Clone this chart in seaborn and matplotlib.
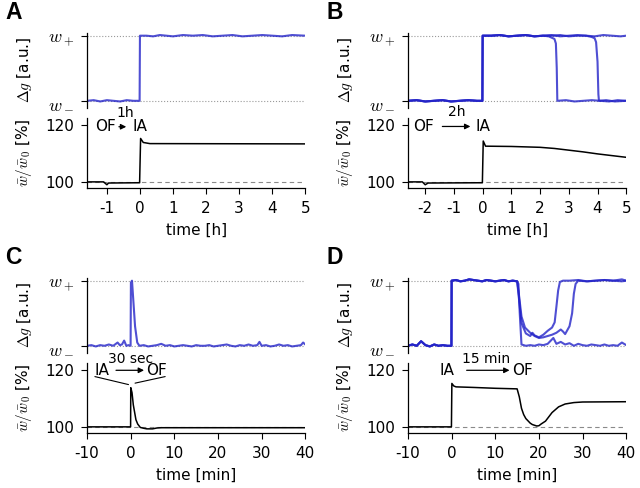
import numpy as np
import pandas as pd
import matplotlib
matplotlib.use('Agg')
import matplotlib.pyplot as plt
import seaborn as sns

# ---- data ----
# A: 1h in OF then switch to IA
a_t = [-1.6, -1.4, -1.2, -1.0, -0.8, -0.6, -0.4, -0.2, -0.01, 0.0, 0.2, 0.4, 0.6, 0.8, 1.0,
       1.3, 1.6, 1.9, 2.2, 2.5, 2.8, 3.1, 3.4, 3.7, 4.0, 4.3, 4.6, 5.0]
a_g = [0.0, 0.01, -0.01, 0.01, 0.0, -0.01, 0.01, 0.0, 0.0, 1.0, 1.0, 0.99, 1.01, 1.0, 0.99,
       1.01, 1.0, 1.01, 0.99, 1.0, 1.01, 0.99, 1.0, 1.01, 1.0, 0.99, 1.01, 1.0]
a_wt = [-1.6, -1.1, -1.0, -0.95, -0.01, 0.02, 0.1, 0.3, 5.0]
a_w = [100.0, 100.0, 99.0, 99.6, 99.7, 115.2, 113.8, 113.4, 113.3]

# B: 2h in OF then IA, three runs
b_pre_t = [-2.6, -2.3, -2.0, -1.7, -1.4, -1.1, -0.8, -0.5, -0.2, -0.01, 0.0, 0.3, 0.6, 0.9,
           1.2, 1.5, 1.8, 2.1]
b_pre_g = [0.0, 0.01, -0.01, 0.0, 0.01, -0.01, 0.0, 0.01, 0.0, 0.0, 1.0, 1.0, 1.01, 0.99,
           1.0, 1.01, 0.99, 1.0]
b1_t = [2.4, 2.7, 3.0, 3.3, 3.6, 3.9, 4.2, 4.5, 4.8, 5.0]
b1_g = [1.01, 0.99, 1.0, 1.01, 1.0, 0.99, 1.01, 1.0, 0.99, 1.0]
b2_t = [2.3, 2.4, 2.5, 2.55, 2.58, 2.6, 2.9, 3.2, 3.5, 3.8, 4.1, 4.4, 4.7, 5.0]
b2_g = [0.99, 0.97, 0.95, 0.88, 0.5, 0.0, 0.01, -0.01, 0.0, 0.01, 0.0, -0.01, 0.01, 0.0]
b3_t = [2.4, 2.7, 3.0, 3.3, 3.6, 3.8, 3.9, 3.95, 4.0, 4.03, 4.05, 4.3, 4.6, 5.0]
b3_g = [1.0, 1.01, 0.99, 1.0, 1.0, 0.98, 0.96, 0.9, 0.6, 0.1, 0.0, 0.01, -0.01, 0.0]
b_wt = [-2.6, -2.1, -2.0, -1.9, -0.01, 0.02, 0.1, 1.0, 2.0, 2.5, 3.0, 3.5, 4.0, 4.5, 5.0]
b_w = [100.0, 100.0, 99.0, 99.6, 99.7, 114.3, 112.5, 112.4, 112.1, 111.7, 111.1, 110.5,
       109.8, 109.2, 108.6]

# C: 30 sec in IA then OF
c_t = [-10, -9, -8, -7, -6, -5, -4, -3, -2.5, -2, -1.5, -1, -0.5, -0.02, 0.05, 0.3, 0.6,
       1.0, 1.5, 2, 3, 4, 5, 6, 7, 8, 9, 10, 11, 12, 13, 14, 15, 16, 17, 18, 19, 20, 21,
       22, 23, 24, 25, 26, 27, 28, 29, 29.5, 30, 31, 32, 33, 34, 35, 36, 37, 38, 39, 39.5, 40]
c_g = [0.0, 0.01, -0.01, 0.01, 0.0, 0.02, 0.0, 0.05, 0.01, 0.02, 0.08, 0.0, 0.01, 0.0,
       0.97, 1.0, 0.7, 0.3, 0.05, 0.0, 0.01, -0.01, 0.0, 0.01, 0.03, 0.0, 0.01, -0.01,
       0.0, 0.01, 0.0, -0.01, 0.01, 0.0, 0.0, 0.01, -0.01, 0.0, 0.01, 0.02, 0.0, -0.01,
       0.01, 0.0, 0.02, 0.0, 0.01, 0.06, 0.0, 0.01, -0.01, 0.0, 0.02, 0.0, 0.01, -0.01,
       0.0, 0.01, 0.05, 0.02]
c_wt = [-10, -0.02, 0.02, 0.3, 0.6, 1.2, 1.6, 2.2, 3.0, 3.7, 5.0, 6.0, 7.0, 40]
c_w = [100.0, 100.0, 113.7, 112.0, 107.7, 102.5, 101.0, 99.8, 99.5, 99.3, 99.3, 99.6,
       99.7, 99.7]

# D: 15 min in IA then OF, three runs
d_pre_t = [-10, -9, -8, -7, -6, -5, -4, -3, -2, -1, -0.05, 0.0, 1, 2, 3, 4, 5, 6, 7, 8,
           9, 10, 11, 12, 13, 14, 15]
d_pre_g = [0.0, 0.02, 0.0, 0.07, 0.01, -0.01, 0.02, 0.0, 0.01, 0.0, 0.0, 1.0, 1.01, 0.99,
           1.0, 1.02, 1.01, 1.0, 0.99, 1.01, 1.0, 0.99, 1.0, 1.01, 0.99, 1.0, 0.99]
d1_t = [15.3, 15.6, 16.0, 17, 18, 19, 20, 21, 22, 23.3, 24, 25, 26, 27, 28, 29, 30, 31,
        32, 33, 34, 35, 36, 37, 38, 39, 40]
d1_g = [0.95, 0.5, 0.02, 0.0, 0.01, 0.0, 0.02, 0.01, 0.03, 0.12, 0.03, 0.06, 0.02, 0.04,
        0.0, 0.03, 0.01, 0.0, 0.02, 0.01, 0.0, 0.02, 0.0, 0.01, 0.0, 0.05, 0.01]
d2_t = [15.3, 16.0, 17, 18, 18.5, 19, 20, 21, 22, 23, 23.6, 24.0, 24.4, 24.8, 25.5, 27,
        29, 31, 33, 35, 37, 39, 40]
d2_g = [0.8, 0.35, 0.19, 0.15, 0.2, 0.16, 0.13, 0.17, 0.23, 0.28, 0.36, 0.6, 0.85, 0.98,
        1.0, 1.0, 1.01, 0.99, 1.0, 1.01, 1.0, 1.02, 1.0]
d3_t = [15.3, 16.0, 16.8, 18, 19, 20, 21, 22, 23, 24, 25, 25.5, 26, 27, 27.6, 28, 28.4,
        29, 31, 33, 35, 37, 39, 40]
d3_g = [0.85, 0.45, 0.28, 0.2, 0.15, 0.12, 0.13, 0.15, 0.17, 0.2, 0.25, 0.22, 0.18, 0.3,
        0.5, 0.8, 0.95, 1.0, 0.99, 1.0, 1.01, 1.0, 0.99, 1.0]
d_wt = [-10, -0.05, 0.05, 0.5, 1, 5, 10, 15, 15.5, 16, 16.5, 17, 18, 18.5, 19.5, 20, 20.5,
        21.5, 23, 24.5, 26, 28, 30, 40]
d_w = [100.0, 100.0, 115.2, 114.3, 114.0, 113.8, 113.5, 113.3, 110.5, 106.5, 104.3, 102.9,
       101.3, 100.8, 100.3, 100.4, 101.0, 102.0, 105.0, 107.0, 108.0, 108.5, 108.7, 108.8]

sns.set_style('ticks')
plt.rcParams['font.family'] = ['DejaVu Sans']
plt.rcParams['mathtext.fontset'] = 'cm'
plt.rcParams['axes.unicode_minus'] = False
for k in ['text.color', 'axes.labelcolor', 'xtick.color', 'ytick.color', 'axes.edgecolor']:
    plt.rcParams[k] = 'black'

BLUE = '#2323c8'
fig = plt.figure(figsize=(6.4, 4.88), dpi=100)

panels = [
    ('A', 0.136, 0.779, 0.615, (-1.6, 5), range(-1, 6), 'time [h]',
     [(a_t, a_g)], (a_wt, a_w)),
    ('B', 0.6375, 0.779, 0.615, (-2.6, 5), range(-2, 6), 'time [h]',
     [(b_pre_t + b1_t, b_pre_g + b1_g), (b_pre_t + b2_t, b_pre_g + b2_g),
      (b_pre_t + b3_t, b_pre_g + b3_g)], (b_wt, b_w)),
    ('C', 0.136, 0.277, 0.113, (-10, 40), range(-10, 41, 10), 'time [min]',
     [(c_t, c_g)], (c_wt, c_w)),
    ('D', 0.6375, 0.277, 0.113, (-10, 40), range(-10, 41, 10), 'time [min]',
     [(d_pre_t + d1_t, d_pre_g + d1_g), (d_pre_t + d2_t, d_pre_g + d2_g),
      (d_pre_t + d3_t, d_pre_g + d3_g)], (d_wt, d_w)),
]

axes = {}
for letter, left, top_bot, bot_bot, xlim, xt, xlab, traces, wdat in panels:
    w = 0.341
    ax1 = fig.add_axes([left, top_bot, w, 0.154])
    ax2 = fig.add_axes([left, bot_bot, w, 0.144])
    axes[letter] = (ax1, ax2)

    # conductance traces
    ax1.axhline(0, ls=':', color='#9a9a9a', lw=0.8, zorder=0)
    ax1.axhline(1, ls=':', color='#9a9a9a', lw=0.8, zorder=0)
    for tt, gg in traces:
        df = pd.DataFrame({'t': tt, 'g': gg})
        sns.lineplot(data=df, x='t', y='g', ax=ax1, color=BLUE, lw=1.5, alpha=0.8,
                     estimator=None, sort=False)
    ax1.set_xlim(xlim)
    ax1.set_ylim(-0.108, 1.046)
    ax1.set_yticks([0, 1])
    ax1.set_yticklabels([r'$w_-$', r'$w_+$'])
    ax1.set_xticks([])
    ax1.set_xlabel('')
    ax1.set_ylabel(r'$\Delta g$ [a.u.]', fontsize=11)
    ax1.yaxis.set_label_coords(-0.245, 0.5)
    sns.despine(ax=ax1, bottom=True)

    # mean weight
    ax2.axhline(100, ls='--', color='#8a8a8a', lw=0.8, dashes=(4, 3), zorder=0)
    df = pd.DataFrame({'t': wdat[0], 'w': wdat[1]})
    sns.lineplot(data=df, x='t', y='w', ax=ax2, color='black', lw=1.1,
                 estimator=None, sort=False)
    ax2.set_xlim(xlim)
    ax2.set_ylim(97.9, 122.5)
    ax2.set_yticks([100, 120])
    ax2.set_xticks(list(xt))
    ax2.set_xlabel(xlab, fontsize=11, labelpad=5)
    ax2.set_ylabel(r'$\bar{w}/\bar{w}_0$ [%]', fontsize=11)
    ax2.yaxis.set_label_coords(-0.245, 0.5)
    sns.despine(ax=ax2)
    for a in (ax1, ax2):
        a.tick_params(length=4.5, width=0.8, pad=5, labelsize=11)
        for s in a.spines.values():
            s.set_linewidth(0.9)
    ax1.tick_params(axis='y', labelsize=13)

    fig.text(left - 0.115, top_bot + 0.195, letter, fontsize=16.5, weight='bold',
             family='Liberation Sans', va='center', ha='center')

arr = dict(arrowstyle='-|>', color='black', lw=0.9, mutation_scale=8)

ax = axes['A'][1]
ax.text(-1.05, 119.3, 'OF', fontsize=11, ha='center', va='center')
ax.text(0.0, 119.3, 'IA', fontsize=11, ha='center', va='center')
ax.annotate('', xy=(-0.33, 119.3), xytext=(-0.72, 119.3), arrowprops=arr)
ax.text(-0.45, 124.2, '1h', fontsize=10, ha='center', va='center')

ax = axes['B'][1]
ax.text(-2.07, 119.4, 'OF', fontsize=11, ha='center', va='center')
ax.text(0.0, 119.4, 'IA', fontsize=11, ha='center', va='center')
ax.annotate('', xy=(-0.33, 119.4), xytext=(-1.5, 119.4), arrowprops=arr)
ax.text(-0.9, 124.5, '2h', fontsize=10, ha='center', va='center')

ax = axes['C'][1]
ax.text(-6.6, 119.8, 'IA', fontsize=11, ha='center', va='center')
ax.text(6.0, 119.8, 'OF', fontsize=11, ha='center', va='center')
ax.annotate('', xy=(3.7, 119.8), xytext=(-4.0, 119.8), arrowprops=arr)
ax.text(-0.1, 123.9, '30 sec', fontsize=10, ha='center', va='center')
ax.plot([-8.2, -0.5], [117.6, 114.8], color='black', lw=0.8, clip_on=False)
ax.plot([1.0, 7.9], [115.3, 117.6], color='black', lw=0.8, clip_on=False)

ax = axes['D'][1]
ax.text(-1.0, 119.8, 'IA', fontsize=11, ha='center', va='center')
ax.text(16.2, 119.8, 'OF', fontsize=11, ha='center', va='center')
ax.annotate('', xy=(13.9, 119.8), xytext=(2.8, 119.8), arrowprops=arr)
ax.text(7.8, 123.9, '15 min', fontsize=10, ha='center', va='center')

fig.savefig('out.png', dpi=100)
